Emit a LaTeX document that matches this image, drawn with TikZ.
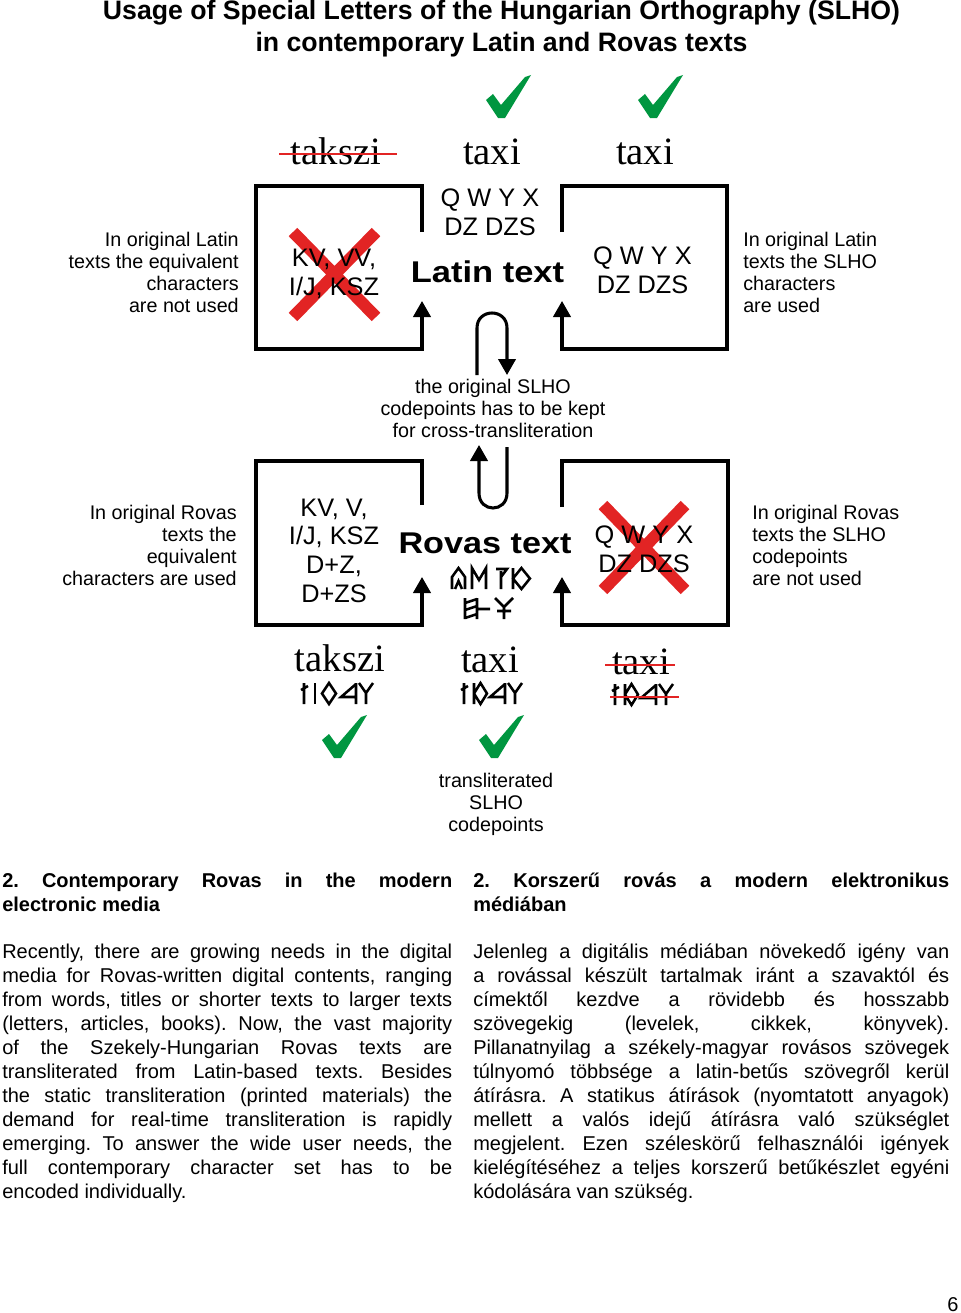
\documentclass[tikz,border=0pt]{standalone}
\usepackage{fontspec}
\setmainfont{Liberation Sans}
\newfontfamily\wordfont{Liberation Serif}
\usetikzlibrary{positioning,arrows.meta}

\definecolor{okgreen}{RGB}{0,150,64}
\definecolor{nored}{RGB}{226,36,36}

\begin{document}
\begin{tikzpicture}[
    x=0.75pt, y=-0.75pt,
    >={Triangle[length=12pt,width=13pt]},
    flow/.style={->, line width=2.3pt},
    boxtext/.style={font=\fontsize{19}{21.5}\selectfont, align=center, inner sep=0pt},
    note/.style={font=\fontsize{14.8}{16.5}\selectfont, inner sep=0pt},
    word/.style={font=\wordfont\fontsize{29}{32}\selectfont, inner sep=0pt},
    heavy/.style={font=\bfseries\fontsize{22.5}{26}\selectfont, inner sep=0pt},
    strike/.style={draw=nored, line width=2.2pt},
    xmark/.style={draw=nored, line width=9pt},
    rune/.style={line width=1.9pt},
    body/.style={font=\fontsize{15}{18}\selectfont, inner sep=0pt, align=justify, anchor=north west},
    okmark/.pic={\fill[okgreen] (-23,3) -- (-16,-3) -- (-8,8) -- (16,-20) -- (22,-22) -- (-4,21) -- (-11,21) -- cycle;},
    rt/.pic={\draw[rune] (3,0) -- (3,21) (0,7) -- (7,3);},
    ri/.pic={\draw[rune] (1,0) -- (1,21);},
    rk/.pic={\draw[rune] (7,0) -- (14,10.5) -- (7,21) -- (0,10.5) -- cycle;},
    rx/.pic={\draw[rune] (0,0) -- (0,21) (0,10.5) -- (6.5,0) -- (13,10.5) -- (6.5,21) -- cycle;},
    ra/.pic={\draw[rune] (15,0) -- (15,21) (15,1) -- (0,14) -- (16,14);},
    ry/.pic={\draw[rune] (0,0) -- (7,10) -- (14,0) (7,10) -- (7,21);},
    rarch/.pic={\draw[rune] (0,21) -- (0,9) -- (6.5,0) -- (13,9) -- (13,21) (3,21) -- (6.5,13) -- (10,21);},
    rm/.pic={\draw[rune] (0,21) -- (0,0) -- (7,12) -- (14,0) -- (14,21);},
    rr/.pic={\draw[rune] (1,1) -- (12,1) -- (6,9) (6,3) -- (6,21);},
    rh/.pic={\draw[rune] (0,0) -- (0,21) (12,0) -- (12,21) (0,5) -- (12,1) (0,12) -- (12,8) (0,20) -- (12,16) (12,11) -- (25,11);},
    rpsi/.pic={\draw[rune] (0,0) -- (9,9) -- (18,0) (9,9) -- (9,21) (2,13) -- (16,13);}
]
\useasboundingbox (0,0) rectangle (960,1313);

% Title
\node[font=\bfseries\fontsize{20}{24}\selectfont, anchor=base] (title1) at (501.5,20) {Usage of Special Letters of the Hungarian Orthography (SLHO)};
\node[font=\bfseries\fontsize{20}{24}\selectfont, anchor=base] (title2) at (501.5,52) {in contemporary Latin and Rovas texts};

% Latin words
\pic at (509,97) {okmark};
\pic at (661,97) {okmark};
\node[word, anchor=base] (wtakszi) at (336,164) {takszi};
\node[word, anchor=base] (wtaxi) at (492,164) {taxi};
\node[word, anchor=base] (wtaxiok) at (645,164) {taxi};
\draw[strike] (279,154) -- (397,154);

% Latin frames
\draw[flow] (422,232) -- (422,186) -- (256,186) -- (256,349) -- (422,349) -- (422,301);
\draw[flow] (562,232) -- (562,186) -- (727,186) -- (727,349) -- (562,349) -- (562,301);
\draw[xmark] (293,232) -- (376,317) (376,232) -- (293,317);
\node[boxtext, anchor=base] (lold) at (334,295) {KV, VV,\\I/J, KSZ};
\node[boxtext, anchor=base] (lmid) at (490,235) {Q W Y X\\DZ DZS};
\node[heavy, anchor=base] (latin) at (487.5,282) {\scalebox{1.15}[1]{Latin text}};
\node[boxtext, anchor=base] (lnew) at (642.5,293) {Q W Y X\\DZ DZS};
\node[note, align=right, anchor=base east] (latinno) at (239,312) {In original Latin\\texts the equivalent\\characters\\are not used};
\node[note, align=left, anchor=base west] (latinyes) at (743,312) {In original Latin\\texts the SLHO\\characters\\are used};

% Cross-transliteration
\node[note, align=center, anchor=base] (keep) at (493,437) {the original SLHO\\codepoints has to be kept\\for cross-transliteration};
\draw[flow] (477,375) -- (477,328) .. controls (477,308) and (507,308) .. (507,328) -- (507,375);
\draw[flow] (507,447) -- (507,493) .. controls (507,513) and (479,513) .. (479,493) -- (479,445);

% Rovas frames
\draw[flow] (422,505) -- (422,461) -- (256,461) -- (256,625) -- (422,625) -- (422,577);
\draw[flow] (562,507) -- (562,461) -- (728,461) -- (728,625) -- (562,625) -- (562,577);
\node[boxtext, anchor=base] (rold) at (334,602) {KV, V,\\I/J, KSZ\\D+Z,\\D+ZS};
\node[heavy, anchor=base] (rovas) at (485,553) {\scalebox{1.14}[1]{Rovas text}};
\pic at (452,568) {rarch};
\pic at (472,568) {rm};
\pic at (495,568) {rr};
\pic[xscale=1.3] at (513,568) {rx};
\pic at (465,598) {rh};
\pic at (495,598) {rpsi};
\draw[xmark] (603,505) -- (685,590) (685,505) -- (603,590);
\node[boxtext, anchor=base] (rnew) at (644,572) {Q W Y X\\DZ DZS};
\node[note, align=right, anchor=base east] (rovasyes) at (237,585) {In original Rovas\\texts the\\equivalent\\characters are used};
\node[note, align=left, anchor=base west] (rovasno) at (752,585) {In original Rovas\\texts the SLHO\\codepoints\\are not used};

% Rovas words
\node[word, anchor=base] (btakszi) at (340,671) {takszi};
\node[word, anchor=base] (btaxi) at (490,672) {taxi};
\node[word, anchor=base] (btaxino) at (641,674) {taxi};
\draw[strike] (605,665) -- (675,665);
\pic at (301,683) {rt};
\pic at (314,683) {ri};
\pic at (322,683) {rk};
\pic at (341,683) {ra};
\pic at (359,683) {ry};
\pic at (461,683) {rt};
\pic at (474,683) {rx};
\pic at (490,683) {ra};
\pic at (508,683) {ry};
\pic at (612,684) {rt};
\pic at (625,684) {rx};
\pic at (641,684) {ra};
\pic at (659,684) {ry};
\draw[strike] (610,697) -- (679,697);
\pic at (345,737) {okmark};
\pic at (502,737) {okmark};
\node[note, align=center, anchor=base] (translit) at (496,831) {transliterated\\SLHO\\codepoints};

% Text columns
\node[body, text width=337.5pt] (headen) at (2,870) {\frenchspacing\noindent\strut\bfseries 2. Contemporary Rovas in the modern\linebreak electronic media};
\node[body, text width=357pt] (headhu) at (473,870) {\frenchspacing\noindent\strut\bfseries 2. Korszerű rovás a modern elektronikus\linebreak médiában};
\node[body, text width=337.5pt] (texten) at (2,941) {\frenchspacing\hyphenpenalty=10000\exhyphenpenalty=10000\sloppy\noindent\strut
Recently, there are growing needs in the digital\linebreak
media for Rovas-written digital contents, ranging\linebreak
from words, titles or shorter texts to larger texts\linebreak
(letters, articles, books). Now, the vast majority\linebreak
of the Szekely-Hungarian Rovas texts are\linebreak
transliterated from Latin-based texts. Besides\linebreak
the static transliteration (printed materials) the\linebreak
demand for real-time transliteration is rapidly\linebreak
emerging. To answer the wide user needs, the\linebreak
full contemporary character set has to be\linebreak
encoded individually.};
\node[body, text width=357pt] (texthu) at (473,941) {\frenchspacing\hyphenpenalty=10000\exhyphenpenalty=10000\sloppy\noindent\strut
Jelenleg a digitális médiában növekedő igény van\linebreak
a rovással készült tartalmak iránt a szavaktól és\linebreak
címektől kezdve a rövidebb és hosszabb\linebreak
szövegekig (levelek, cikkek, könyvek).\linebreak
Pillanatnyilag a székely-magyar rovásos szövegek\linebreak
túlnyomó többsége a latin-betűs szövegről kerül\linebreak
átírásra. A statikus átírások (nyomtatott anyagok)\linebreak
mellett a valós idejű átírásra való szükséglet\linebreak
megjelent. Ezen széleskörű felhasználói igények\linebreak
kielégítéséhez a teljes korszerű betűkészlet egyéni\linebreak
kódolására van szükség.};

\node[font=\fontsize{15}{18}\selectfont, anchor=base] (pagenum) at (953,1311) {6};

\end{tikzpicture}
\end{document}
